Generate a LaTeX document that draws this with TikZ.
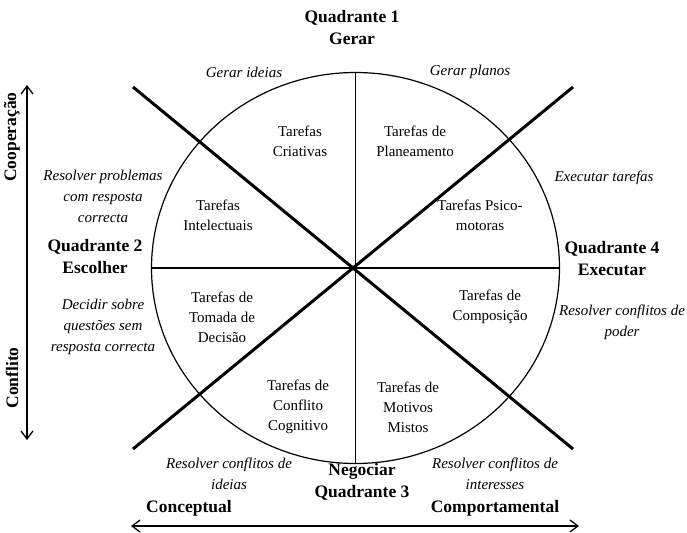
\documentclass[tikz,border=0pt]{standalone}
\usepackage{fontspec}
\setmainfont{Liberation Serif}
\usetikzlibrary{arrows.meta,shapes.geometric}
\begin{document}
\begin{tikzpicture}[x=1pt,y=-1pt,
  every node/.style={font=\fontsize{15}{20}\selectfont, align=center, inner sep=0pt},
  task/.style={},
  act/.style={font=\fontsize{15}{21}\selectfont\itshape},
  quad/.style={font=\fontsize{17.5}{22}\selectfont\bfseries},
  axislab/.style={font=\fontsize{17.5}{21}\selectfont\bfseries},
  diag/.style={line width=3pt},
  axisarrow/.style={line width=1.3pt, {Straight Barb[length=8pt,width=12pt]}-{Straight Barb[length=8pt,width=12pt]}}
]
\useasboundingbox (0,0) rectangle (687,532);
\node[ellipse, draw, line width=1.2pt, minimum width=408pt, minimum height=391pt] (c) at (355.5,268) {};
\draw[line width=1.2pt] (c.north) -- (c.south);
\draw[line width=1.2pt] (c.west) -- (c.east);
\coordinate (ul) at (133,87);
\coordinate (ur) at (573,87);
\coordinate (ll) at (133,449);
\coordinate (lr) at (573,449);
\draw[diag] (ul) -- (lr);
\draw[diag] (ll) -- (ur);
% axes
\coordinate (vt) at (27,85);
\coordinate (vb) at (27,440);
\draw[axisarrow] (vt) -- (vb);
\coordinate (hl) at (131,526);
\coordinate (hr) at (579,526);
\draw[axisarrow] (hl) -- (hr);
\node[axislab, rotate=90] (coop) at (12,137) {Cooperação};
\node[axislab, rotate=90] (conf) at (12,378) {Conflito};
\node[axislab] (concept) at (189,508) {Conceptual};
\node[axislab] (comport) at (495,508) {Comportamental};
% quadrants
\node[quad] (q1) at (352,28) {Quadrante 1\\Gerar};
\node[quad] (q2) at (95,257) {Quadrante 2\\Escolher};
\node[quad] (q3) at (362,482) {Negociar\\Quadrante 3};
\node[quad] (q4) at (612,259) {Quadrante 4\\Executar};
% activities
\node[act] (a1) at (244,72) {Gerar ideias};
\node[act] (a2) at (470,72) {Gerar planos};
\node[act] (a3) at (604,178) {Executar tarefas};
\node[act] (a4) at (622,322) {Resolver conflitos de\\poder};
\node[act] (a5) at (495,474) {Resolver conflitos de\\interesses};
\node[act] (a6) at (229,474) {Resolver conflitos de\\ideias};
\node[act] (a7) at (103,327) {Decidir sobre\\questões sem\\resposta correcta};
\node[act] (a8) at (103,196) {Resolver problemas\\com resposta\\correcta};
% tasks
\node[task] (t1) at (300,141) {Tarefas\\Criativas};
\node[task] (t2) at (415,141) {Tarefas de\\Planeamento};
\node[task] (t3) at (480,215) {Tarefas Psico-\\motoras};
\node[task] (t4) at (218,215) {Tarefas\\Intelectuais};
\node[task] (t5) at (222,317) {Tarefas de\\Tomada de\\Decisão};
\node[task] (t6) at (490,307) {Tarefas de\\Composição};
\node[task] (t7) at (298,407) {Tarefas de\\Conflito\\Cognitivo};
\node[task] (t8) at (408,407) {Tarefas de\\Motivos\\Mistos};
\end{tikzpicture}
\end{document}
